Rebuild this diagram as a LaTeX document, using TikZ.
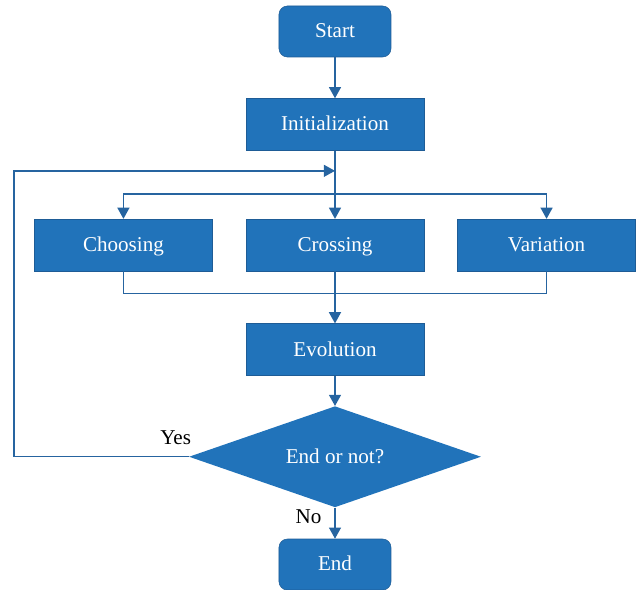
\documentclass[tikz,border=0pt]{standalone}
\usepackage{fontspec}
\setmainfont{Liberation Serif}
\usepackage{xcolor}
\usepackage{tikz}
\usetikzlibrary{arrows.meta,positioning,shapes.geometric,calc}
\definecolor{flowblue}{RGB}{33,115,186}
\definecolor{edgeblue}{RGB}{30,92,150}
\definecolor{lineblue}{RGB}{38,100,160}

\begin{document}
\begin{tikzpicture}[
      node distance=1.0cm and 0.825cm,
      box/.style={draw=edgeblue,thin,fill=flowblue,text=white,
                  minimum width=4.45cm,minimum height=1.3cm,align=center,
                  text height=10pt,text depth=1pt,font=\fontsize{15}{17}\selectfont},
      term/.style={box,rounded corners=6pt,minimum width=2.8cm,minimum height=1.275cm},
      decision/.style={diamond,fill=flowblue,text=white,aspect=2.9,inner sep=1pt,
                  minimum width=7.3cm,minimum height=2.525cm,font=\fontsize{15}{17}\selectfont},
      lbl/.style={inner sep=1pt,font=\fontsize{15}{17}\selectfont},
      ln/.style={lineblue,line width=1pt},
      ar/.style={ln,-{Triangle[length=2.8mm,width=3mm]}}]
    \useasboundingbox (-8.375,0.7875) rectangle (7.575,-13.9625);
    \node[term] (start) at (0,0) {Start};
    \node[box,below=1.025cm of start] (init) {Initialization};
    \node[box,below=1.7cm of init] (cross) {Crossing};
    \node[box,left=of cross] (choose) {Choosing};
    \node[box,right=of cross] (vari) {Variation};
    \node[box,below=1.3cm of cross] (evo) {Evolution};
    \node[decision,below=0.75cm of evo] (dec) {End or not?};
    \node[term,below=0.78cm of dec] (end) {End};
    \node[lbl,above left=0.25cm and -0.1cm of dec.west] (yes) {Yes};
    \node[lbl,below left=0.0cm and 0.3cm of dec.south] (no) {No};
    % helper points
    \coordinate (back) at ($(init.south)+(0,-0.5)$);
    \coordinate (split) at ($(cross.north)+(0,0.625)$);
    \coordinate (merge) at ($(cross.south)+(0,-0.55)$);
    \coordinate (loopx) at (-8.025,0);
    \draw[ar] (start) -- (init);
    \draw[ar] (init) -- (cross);
    \draw[ar] (split) -| (choose);
    \draw[ar] (split) -| (vari);
    \draw[ln] (choose) |- (merge) -| (vari);
    \draw[ar] (cross) -- (evo);
    \draw[ar] (evo) -- (dec);
    \draw[ar] (dec.west) -- (dec.west -| loopx) |- (back);
    \draw[ar] (dec) -- (end);
  \end{tikzpicture}
\end{document}
